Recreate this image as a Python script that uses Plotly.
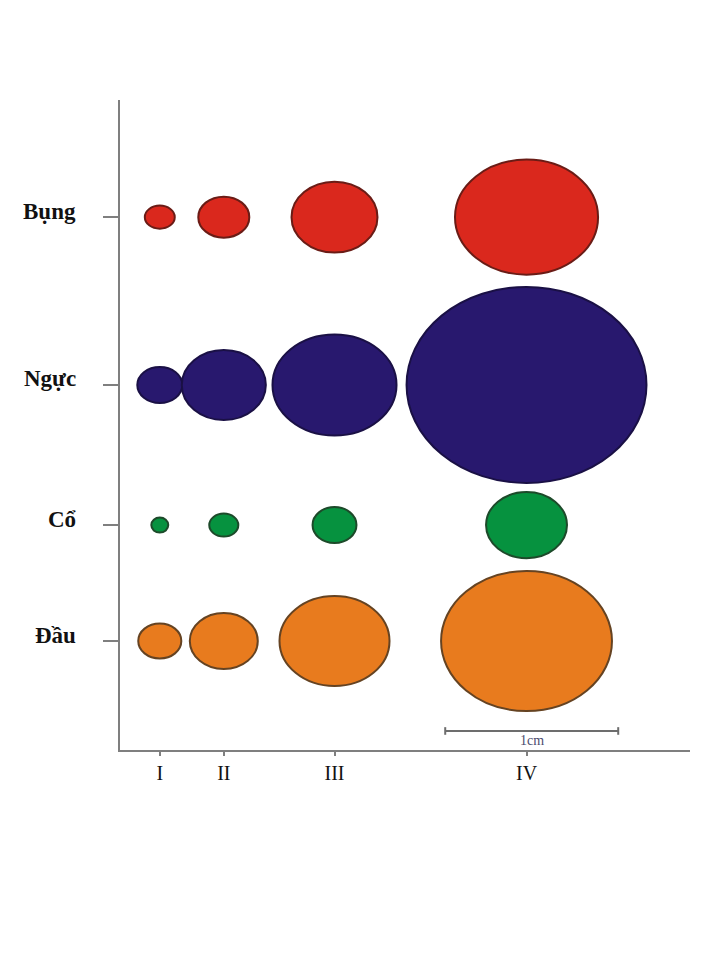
import plotly.graph_objects as go

# ---- data (sizes in mm; 1 cm scale bar = 10 mm) ----
stages = ["I", "II", "III", "IV"]
stage_pos_mm = [2.3, 6.0, 12.4, 23.5]          # position of each stage along x
parts = ["Bụng", "Ngực", "Cổ", "Đầu"]
part_pos_mm = [30.8, 21.1, 13.0, 6.3]          # position of each body part along y

width_bung = [1.73, 2.95, 4.97, 8.27]
height_bung = [1.33, 2.37, 4.10, 6.65]
width_nguc = [2.60, 4.86, 7.17, 13.87]
height_nguc = [2.08, 4.05, 5.84, 11.33]
width_co = [0.98, 1.68, 2.54, 4.68]
height_co = [0.87, 1.33, 2.08, 3.82]
width_dau = [2.49, 3.93, 6.36, 9.88]
height_dau = [2.02, 3.24, 5.20, 8.09]

scale_bar_start_mm = 18.8
scale_bar_len_mm = 10.0
scale_bar_label = "1cm"

widths = [width_bung, width_nguc, width_co, width_dau]
heights = [height_bung, height_nguc, height_co, height_dau]
fills = ["#DA281D", "#28186E", "#06923F", "#E87B1E"]
edges = ["#6A1C16", "#1A1045", "#1D4A2A", "#654322"]

X_RANGE = [0, 32.95]
Y_RANGE = [0, 37.57]
AXIS_COLOR = "#7F7F7F"

fig = go.Figure()
# invisible trace so axes exist
fig.add_trace(go.Scatter(x=[X_RANGE[0]], y=[Y_RANGE[0]], mode="markers",
                         marker=dict(opacity=0), hoverinfo="skip", showlegend=False))

shapes = []
for pi, part in enumerate(parts):
    cy = part_pos_mm[pi]
    for si, st in enumerate(stages):
        cx = stage_pos_mm[si]
        w = widths[pi][si]
        h = heights[pi][si]
        shapes.append(dict(type="circle", xref="x", yref="y",
                           x0=cx - w / 2, x1=cx + w / 2, y0=cy - h / 2, y1=cy + h / 2,
                           fillcolor=fills[pi], line=dict(color=edges[pi], width=2),
                           layer="above"))

# scale bar
bar_y = 1.1
cap = 0.22
x_a = scale_bar_start_mm
x_b = scale_bar_start_mm + scale_bar_len_mm
bar_line = dict(color="#6D6D6D", width=2)
shapes.append(dict(type="line", xref="x", yref="y", x0=x_a, x1=x_b, y0=bar_y, y1=bar_y, line=bar_line))
shapes.append(dict(type="line", xref="x", yref="y", x0=x_a, x1=x_a, y0=bar_y - cap, y1=bar_y + cap, line=bar_line))
shapes.append(dict(type="line", xref="x", yref="y", x0=x_b, x1=x_b, y0=bar_y - cap, y1=bar_y + cap, line=bar_line))

annotations = [dict(x=(x_a + x_b) / 2, y=bar_y, xref="x", yref="y", text=scale_bar_label,
                    showarrow=False, yanchor="top", yshift=0,
                    font=dict(family="Liberation Serif", size=14, color="#4C4C6E"))]
for pi, part in enumerate(parts):
    annotations.append(dict(x=X_RANGE[0], y=part_pos_mm[pi], xref="x", yref="y",
                            text="<b>" + part + "</b>",
                            showarrow=False, xanchor="right", xshift=-42, yshift=6,
                            font=dict(family="Liberation Serif", size=23, color="#111111")))

fig.update_layout(
    width=720, height=960,
    margin=dict(l=120, r=30, t=100, b=210),
    paper_bgcolor="white", plot_bgcolor="white",
    shapes=shapes, annotations=annotations,
    showlegend=False,
    xaxis=dict(range=X_RANGE, showgrid=False, zeroline=False,
               showline=True, linecolor=AXIS_COLOR, linewidth=2,
               tickmode="array", tickvals=stage_pos_mm, ticktext=stages,
               ticks="outside", ticklen=4, tickwidth=2, tickcolor=AXIS_COLOR,
               tickfont=dict(family="Liberation Serif", size=20, color="#111111"),
               fixedrange=True),
    yaxis=dict(range=Y_RANGE, showgrid=False, zeroline=False,
               showline=True, linecolor=AXIS_COLOR, linewidth=2,
               tickmode="array", tickvals=part_pos_mm, ticktext=["", "", "", ""],
               ticks="outside", ticklen=15, tickwidth=2, tickcolor=AXIS_COLOR,
               showticklabels=False, fixedrange=True),
)

fig.write_html("out.html")
